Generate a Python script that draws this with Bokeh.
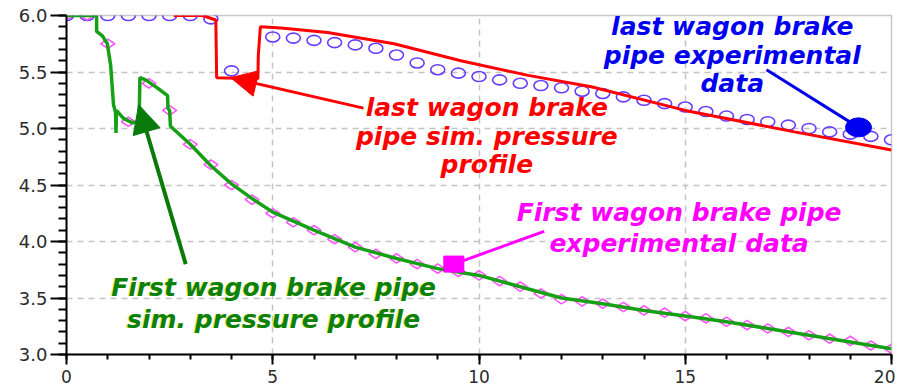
import math
from bokeh.plotting import figure
from bokeh.models import (Range1d, SingleIntervalTicker, NumeralTickFormatter,
                          Arrow, NormalHead)
from bokeh.embed import file_html
from bokeh.resources import INLINE
from bokeh.core.properties import value

# ---------------- data ----------------
# last wagon brake pipe experimental data (circles)
last_exp_t = [0, 0.5, 1.0, 1.5, 2.0, 2.5, 3.0, 3.5, 4.0, 5.0, 5.5, 6.0, 6.5, 7.0,
              7.5, 8.0, 8.5, 9.0, 9.5, 10.0, 10.5, 11.0, 11.5, 12.0, 12.5, 13.0,
              13.5, 14.0, 14.5, 15.0, 15.5, 16.0, 16.5, 17.0, 17.5, 18.0, 18.5,
              19.0, 19.5, 20.0]
last_exp_p = [6.0, 6.0, 6.0, 6.0, 6.0, 6.0, 6.0, 5.97, 5.51, 5.81, 5.80, 5.78, 5.76,
              5.74, 5.71, 5.65, 5.58, 5.52, 5.49, 5.46, 5.43, 5.40, 5.38, 5.36,
              5.33, 5.31, 5.28, 5.25, 5.22, 5.19, 5.15, 5.11, 5.08, 5.06, 5.03,
              5.00, 4.97, 4.95, 4.93, 4.90]

# first wagon brake pipe experimental data (diamonds)
first_exp_t = [0, 0.5, 1.0, 1.5, 2.0, 2.5, 3.0, 3.5, 4.0, 4.5, 5.0, 5.5, 6.0, 6.5,
               7.0, 7.5, 8.0, 8.5, 9.0, 9.5, 10.0, 10.5, 11.0, 11.5, 12.0, 12.5,
               13.0, 13.5, 14.0, 14.5, 15.0, 15.5, 16.0, 16.5, 17.0, 17.5, 18.0,
               18.5, 19.0, 19.5, 20.0]
first_exp_p = [6.0, 6.0, 5.75, 5.06, 5.40, 5.16, 4.86, 4.68, 4.50, 4.37, 4.25, 4.17,
               4.10, 4.02, 3.95, 3.89, 3.85, 3.80, 3.76, 3.73, 3.70, 3.65, 3.60,
               3.54, 3.49, 3.47, 3.45, 3.42, 3.39, 3.37, 3.34, 3.32, 3.29, 3.26,
               3.23, 3.20, 3.17, 3.14, 3.12, 3.08, 3.05]

# last wagon brake pipe simulated pressure profile (red)
last_sim_t = [2.6, 3.3, 3.62, 3.64, 4.64, 4.65, 4.7, 5.2, 6.33, 7.94, 9.56, 11.19,
              12.72, 15.0, 17.65, 20.0]
last_sim_p = [6.0, 6.0, 5.96, 5.45, 5.44, 5.65, 5.90, 5.89, 5.85, 5.75, 5.60, 5.47,
              5.37, 5.16, 4.97, 4.81]

# first wagon brake pipe simulated pressure profile (green)
first_sim_t = [0, 0.73, 0.73, 0.87, 0.99, 1.07, 1.14, 1.19, 1.20, 1.21, 1.38, 1.60,
               1.76, 1.78, 1.92, 2.20, 2.45, 2.46, 2.50, 2.52, 3.0, 3.5, 4.0, 4.5,
               5.0, 6.0, 7.0, 8.0, 9.0, 10.0, 11.0, 12.0, 13.0, 14.0, 15.0, 16.0,
               17.0, 18.0, 19.0, 20.0]
first_sim_p = [6.0, 6.0, 5.86, 5.82, 5.75, 5.56, 5.21, 5.14, 4.96, 5.16, 5.09, 5.05,
               5.06, 5.45, 5.43, 5.36, 5.29, 5.18, 5.16, 5.02, 4.86, 4.67, 4.51,
               4.38, 4.26, 4.10, 3.95, 3.85, 3.76, 3.70, 3.60, 3.50, 3.45, 3.39,
               3.34, 3.29, 3.23, 3.17, 3.11, 3.05]

# annotations
red_label = "last wagon brake\npipe sim. pressure\nprofile"
blue_label = "last wagon brake\npipe experimental\ndata"
mag_label = "First wagon brake pipe\nexperimental data"
green_label = "First wagon brake pipe\nsim. pressure profile"
label_x = [10.19, 16.14, 14.85, 5.02]
label_y = [4.93, 5.65, 4.12, 3.45]

red_arrow = dict(x0=[7.2], y0=[5.18], x1=[3.98], y1=[5.45])
green_arrow = dict(x0=[2.89], y0=[3.80], x1=[1.75], y1=[5.21])
blue_pointer = dict(x0=[16.97], y0=[5.52], x1=[19.2], y1=[5.01])
mag_pointer = dict(x0=[11.58], y0=[4.09], x1=[9.39], y1=[3.80])

x_ticks_interval = 5
y_ticks_interval = 0.5

# ---------------- figure ----------------
p = figure(width=895, height=385, output_backend="svg", toolbar_location=None,
           x_range=Range1d(0, 20), y_range=Range1d(3.0, 6.0),
           min_border_left=66, min_border_right=4, min_border_top=15,
           min_border_bottom=29)
p.background_fill_color = "white"
p.border_fill_color = "white"
p.outline_line_color = "#c8c8c8"
p.outline_line_width = 1.5

p.xaxis.ticker = SingleIntervalTicker(interval=x_ticks_interval, num_minor_ticks=5)
p.yaxis.ticker = SingleIntervalTicker(interval=y_ticks_interval, num_minor_ticks=5)
p.yaxis.formatter = NumeralTickFormatter(format="0.0")

for ax in (p.xaxis[0], p.yaxis[0]):
    ax.axis_line_color = "black"
    ax.axis_line_width = 2
    ax.major_tick_line_color = "black"
    ax.major_tick_line_width = 2
    ax.minor_tick_line_color = "black"
    ax.minor_tick_line_width = 2
    ax.major_tick_in = 0
    ax.minor_tick_in = 0
    ax.major_label_text_font = "DejaVu Sans"
    ax.major_label_text_color = "#2b2b2b"

p.yaxis.major_tick_out = 16
p.yaxis.minor_tick_out = 8
p.yaxis.major_label_text_font_size = "18px"
p.yaxis.major_label_standoff = 3
p.xaxis.major_tick_out = 10
p.xaxis.minor_tick_out = 5
p.xaxis.major_label_text_font_size = "17px"
p.xaxis.major_label_standoff = 5

for g in (p.xgrid[0], p.ygrid[0]):
    g.grid_line_color = "#c4c4c4"
    g.grid_line_dash = "6 5"
    g.grid_line_width = 1.5

# ---------------- series ----------------
p.ellipse(x=last_exp_t, y=last_exp_p, width=14, height=10, width_units="screen",
          height_units="screen", fill_color=None, line_color="#6a3cff",
          line_width=1.6)
p.scatter(x=first_exp_t, y=first_exp_p, marker="diamond", size=14, angle=math.pi / 2,
          fill_color=None, line_color="#ff55ff", line_width=1.6)
p.line(x=last_sim_t, y=last_sim_p, line_color="#ff0000", line_width=3)
p.line(x=first_sim_t, y=first_sim_p, line_color="#16a016", line_width=3.5)

# ---------------- pointers ----------------
p.add_layout(Arrow(end=NormalHead(size=26, fill_color="#ff0000", line_color="#ff0000"),
                   x_start=red_arrow["x0"][0], y_start=red_arrow["y0"][0],
                   x_end=red_arrow["x1"][0], y_end=red_arrow["y1"][0],
                   line_color="#ff0000", line_width=3))
p.add_layout(Arrow(end=NormalHead(size=28, fill_color="#0a7a0a", line_color="#0a7a0a"),
                   x_start=green_arrow["x0"][0], y_start=green_arrow["y0"][0],
                   x_end=green_arrow["x1"][0], y_end=green_arrow["y1"][0],
                   line_color="#0a7a0a", line_width=4))
p.segment(x0=blue_pointer["x0"], y0=blue_pointer["y0"], x1=blue_pointer["x1"],
          y1=blue_pointer["y1"], line_color="#0000e6", line_width=3)
p.ellipse(x=blue_pointer["x1"], y=blue_pointer["y1"], width=26, height=19,
          width_units="screen", height_units="screen", fill_color="#0000f0",
          line_color="#0000f0")
p.segment(x0=mag_pointer["x0"], y0=mag_pointer["y0"], x1=mag_pointer["x1"],
          y1=mag_pointer["y1"], line_color="#ff00ff", line_width=3)
p.rect(x=mag_pointer["x1"], y=mag_pointer["y1"], width=20, height=16,
       width_units="screen", height_units="screen", fill_color="#ff00ff",
       line_color="#ff00ff")

# ---------------- labels ----------------
font = value("DejaVu Sans")
common = dict(text_font=font, text_font_size="25px", text_font_style="bold italic",
              text_align="center", text_baseline="middle")
p.text(x=[label_x[0]], y=[label_y[0]], text=[red_label], text_color="#ff0000",
       text_line_height=0.98, **common)
p.text(x=[label_x[1]], y=[label_y[1]], text=[blue_label], text_color="#0000f0",
       text_line_height=0.98, **common)
p.text(x=[label_x[2]], y=[label_y[2]], text=[mag_label], text_color="#ff00ff",
       text_line_height=1.08, **common)
p.text(x=[label_x[3]], y=[label_y[3]], text=[green_label], text_color="#f0f060",
       text_line_height=1.08, x_offset=-1, y_offset=0, **common)
p.text(x=[label_x[3]], y=[label_y[3]], text=[green_label], text_color="#0b800b",
       text_line_height=1.08, **common)

open("out.html", "w").write(file_html(p, INLINE))
